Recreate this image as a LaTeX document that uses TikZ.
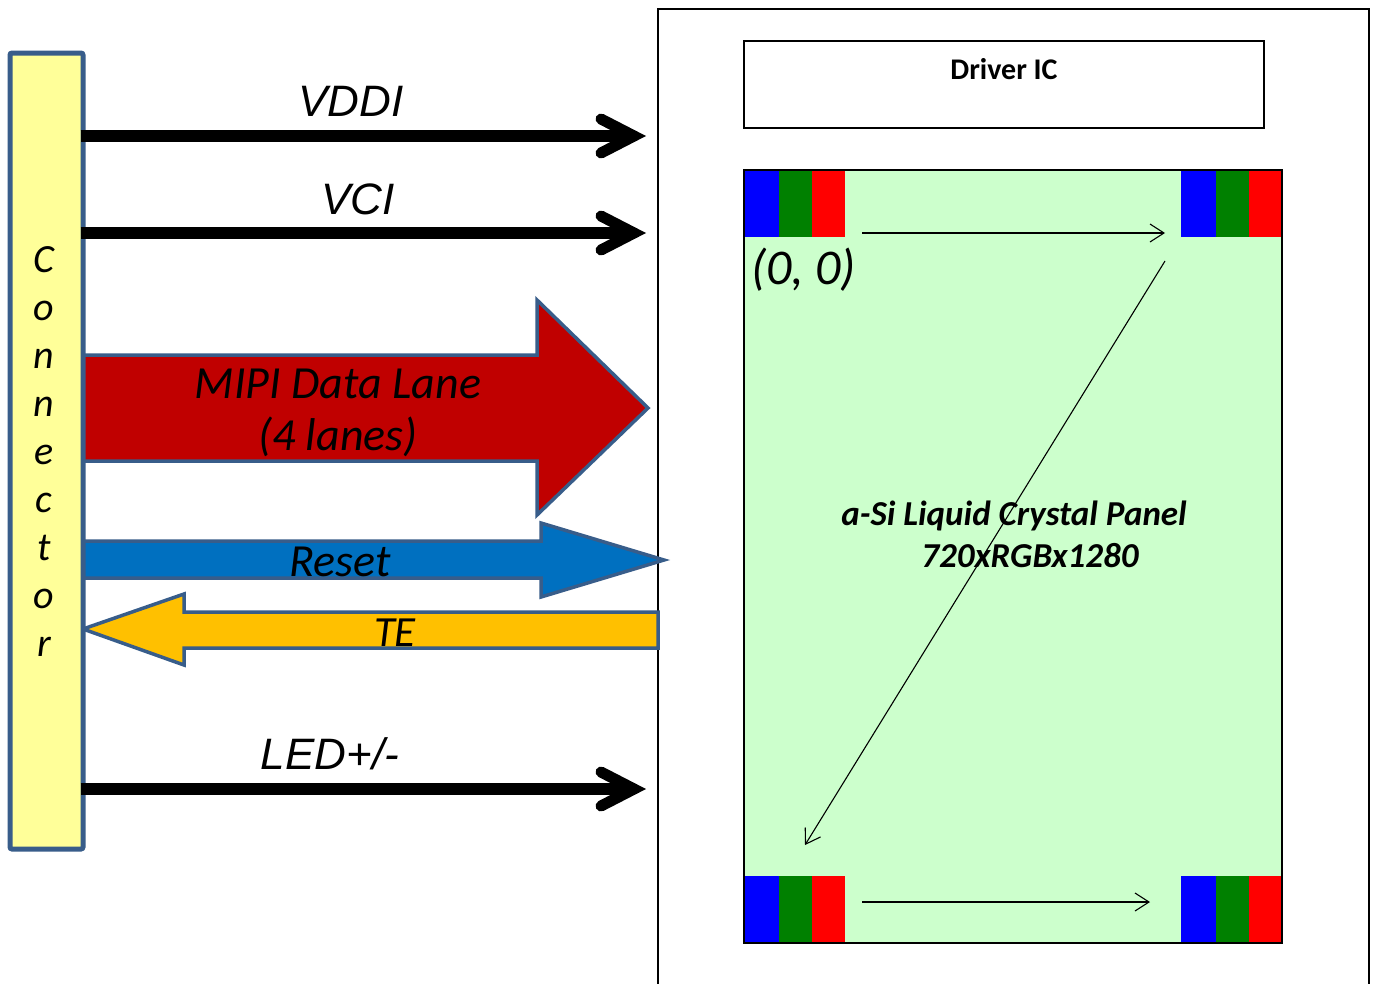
\documentclass[tikz,border=0pt]{standalone}
\usepackage{fontspec}
\setmainfont{Carlito}
\newfontfamily\arialf{Liberation Sans}
\usetikzlibrary{arrows.meta}
\definecolor{outl}{HTML}{385D8A}
\definecolor{connfill}{HTML}{FFFF99}
\definecolor{mipired}{HTML}{C00000}
\definecolor{resetblue}{HTML}{0070C0}
\definecolor{teorange}{HTML}{FFC000}
\definecolor{panelgreen}{HTML}{CCFFCC}
\definecolor{pxblue}{HTML}{0000FF}
\definecolor{pxgreen}{HTML}{008000}
\definecolor{pxred}{HTML}{FF0000}
\tikzset{
  boxnode/.style={draw=black, line width=2pt, inner sep=0pt, outer sep=0pt, anchor=north west},
  blockarrow/.style={draw=outl, line width=3.5pt, line join=miter},
  powerline/.style={line width=12pt, line cap=butt},
  chevron/.style={line width=11pt, line cap=round, line join=miter},
  thinarrow/.style={line width=1.1pt, -{Straight Barb[length=14pt,width=18pt,line width=1.1pt]}},
  arlabel/.style={font=\arialf\itshape\fontsize{44}{50}\selectfont, anchor=base},
  cblabel/.style={font=\itshape\fontsize{46}{50}\selectfont, anchor=base},
  connletter/.style={font=\itshape\fontsize{40}{44}\selectfont, anchor=base},
  panellabel/.style={font=\bfseries\itshape\fontsize{35}{40}\selectfont, anchor=base}
}
\begin{document}
\begin{tikzpicture}[x=1pt,y=-1pt]
\useasboundingbox (0,0) rectangle (1375,983);
\fill[white] (0,0) rectangle (1375,983);

% outer module box
\node (outer) [boxnode, fill=white, minimum width=711pt, minimum height=1000pt] at (658,9) {};

% driver IC
\node (drv) [boxnode, fill=white, minimum width=520pt, minimum height=87pt] at (744,41) {};
\node (drvtxt) [font=\bfseries\fontsize{30}{34}\selectfont, anchor=base] at (1004,79) {Driver IC};

% panel
\node (panel) [boxnode, draw=none, fill=panelgreen, minimum width=538pt, minimum height=773pt] at (744,170) {};
% pixel strips
\foreach \x in {744,1181}{
  \foreach \y in {170,876}{
    \fill[pxblue]  (\x,\y) rectangle ++(35,67);
    \fill[pxgreen] (\x+35,\y) rectangle ++(33,67);
    \fill[pxred]   (\x+68,\y) rectangle ++(33,67);
  }
}
\draw[line width=2.5pt] (panel.north west) rectangle (panel.south east);

\node (origin) [font=\itshape\fontsize{50}{54}\selectfont, anchor=base west, inner sep=0pt] at (751,284) {(0,~0)};
\node (pl1) [panellabel] at (1014,525) {a-Si Liquid Crystal Panel};
\node (pl2) [panellabel] at (1030,567) {720xRGBx1280};

% scan arrows
\coordinate (s1a) at (862,233);
\coordinate (s1b) at (1165,233);
\coordinate (s2a) at (1165,261);
\coordinate (s2b) at (805,845);
\coordinate (s3a) at (862,902);
\coordinate (s3b) at (1150,902);
\draw[thinarrow] (s1a) -- (s1b);
\draw[thinarrow] (s2a) -- (s2b);
\draw[thinarrow] (s3a) -- (s3b);

% block arrows
\draw[blockarrow, fill=mipired] (81,355) -- (537,355) -- (537,300) -- (648,408) -- (537,515) -- (537,461) -- (81,461) -- cycle;
\node (mipi1) [cblabel] at (338,398) {MIPI Data Lane};
\node (mipi2) [cblabel] at (338,450) {(4 lanes)};

\draw[blockarrow, fill=resetblue] (81,541) -- (541,541) -- (541,523) -- (664,560) -- (541,597) -- (541,578) -- (81,578) -- cycle;
\node (reset) [cblabel] at (340,576) {Reset};

\draw[blockarrow, fill=teorange] (658,612) -- (184,612) -- (184,594) -- (83,629) -- (184,665) -- (184,648) -- (658,648) -- cycle;
\node (te) [cblabel, font=\itshape\fontsize{43}{50}\selectfont] at (395,646) {TE};

% connector
\node (conn) [draw=outl, fill=connfill, line width=5pt, rounded corners=2pt, inner sep=0pt, anchor=north west, minimum width=73pt, minimum height=796pt] at (7.5,50.5) {};
\foreach \l [count=\i] in {C,o,n,n,e,c,t,o,r}
  \node (cl\i) [connletter] at (44,272+48*\i-48) {\l};

% power lines
\foreach \n/\y in {vddi/136, vci/233, led/789}{
  \coordinate (\n a) at (80.5,\y);
  \coordinate (\n b) at (630,\y);
  \coordinate (\n tip) at (634,\y);
  \draw[powerline] (\n a) -- (\n b);
  \draw[chevron] ([xshift=-33pt,yshift=17pt]\n tip) -- (\n tip) -- ([xshift=-33pt,yshift=-17pt]\n tip);
}
\node (vddilbl) [arlabel] at (351,116) {VDDI};
\node (vcilbl) [arlabel] at (358,214) {VCI};
\node (ledlbl) [arlabel] at (330,769) {LED+/-};
\end{tikzpicture}
\end{document}
